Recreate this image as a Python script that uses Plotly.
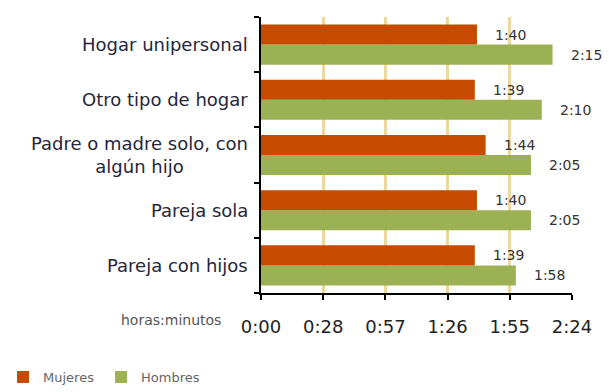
import plotly.graph_objects as go

# Household types, listed bottom to top
categorias = [
    "Pareja con hijos",
    "Pareja sola",
    "Padre o madre solo, con<br>algún hijo",
    "Otro tipo de hogar",
    "Hogar unipersonal",
]
# Daily time, in minutes
mujeres = [99, 100, 104, 99, 100]
hombres = [118, 125, 125, 130, 135]

# Axis ticks (minutes) and their hh:mm labels
tick_min = [0, 28.8, 57.6, 86.4, 115.2, 144]
tick_txt = ["0:00", "0:28", "0:57", "1:26", "1:55", "2:24"]

COL_M = "#C64A00"
COL_H = "#9CB054"
FONT = "DejaVu Sans"
BARGAP = 0.273


def hmm(m):
    return f"{int(m) // 60}:{int(m) % 60:02d}"


fig = go.Figure()
fig.add_trace(go.Bar(y=categorias, x=hombres, orientation="h", name="Hombres",
                     marker=dict(color=COL_H, line=dict(width=0)), legend="legend2"))
fig.add_trace(go.Bar(y=categorias, x=mujeres, orientation="h", name="Mujeres",
                     marker=dict(color=COL_M, line=dict(width=0)), legend="legend"))

# Value labels beside each bar end
half = (1 - BARGAP) / 4
ann = []
for i, cat in enumerate(categorias):
    for val, off in ((mujeres[i], half), (hombres[i], -half)):
        ann.append(dict(x=val, y=i + off, xref="x", yref="y", text=hmm(val),
                        showarrow=False, xanchor="left", yanchor="middle", xshift=16,
                        font=dict(family=FONT, size=14, color="#333333")))
    # Category label, lines centred within the block
    ann.append(dict(x=0, y=i, xref="paper", yref="y", text=cat, showarrow=False,
                    xanchor="right", yanchor="middle", align="center", xshift=-11,
                    font=dict(family=FONT, size=18, color="#26263a")))

ann.append(dict(x=0, y=0, xref="paper", yref="paper", text="horas:minutos",
                showarrow=False, xanchor="right", yanchor="middle", xshift=-38, yshift=-27,
                font=dict(family=FONT, size=14, color="#555555")))

legend_style = dict(orientation="h", xref="container", yref="container",
                    y=0.0, xanchor="left", yanchor="bottom",
                    font=dict(family=FONT, size=13, color="#666666"),
                    itemwidth=30)

fig.update_layout(
    width=609, height=392,
    margin=dict(l=261, r=37, t=17, b=99),
    paper_bgcolor="white", plot_bgcolor="white",
    barmode="group", bargap=BARGAP, bargroupgap=0,
    annotations=ann,
    showlegend=True,
    legend=dict(legend_style, x=0.005),
    legend2=dict(legend_style, x=0.166),
    font=dict(family=FONT),
)
fig.update_xaxes(range=[0, 144], tickvals=tick_min, ticktext=tick_txt,
                 showgrid=True, gridcolor="#EBD89E", gridwidth=3,
                 showline=True, linecolor="black", linewidth=1.5,
                 ticks="outside", ticklen=5, tickcolor="black", tickwidth=1.5,
                 ticklabelstandoff=12, zeroline=False,
                 tickfont=dict(family=FONT, size=18, color="#222222"))
fig.update_yaxes(showgrid=False, showline=True, linecolor="black", linewidth=1.5,
                 ticks="outside", tickson="boundaries", ticklen=5, tickcolor="black",
                 tickwidth=1.5, showticklabels=False, zeroline=False)

fig.write_html("out.html")
